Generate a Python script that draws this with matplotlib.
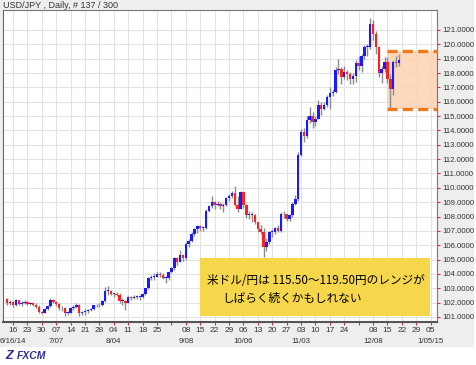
import numpy as np
import pandas as pd
import matplotlib
matplotlib.use("Agg")
import matplotlib.pyplot as plt
from matplotlib.patches import Rectangle
from matplotlib.transforms import blended_transform_factory

plt.rcParams['font.family'] = ['Liberation Sans', 'DejaVu Sans']

# USD/JPY daily, 2014-06-12 .. 2014-12-19 (137 bars)
first_open = 102.25
close = [
    101.95, 102.05,
    101.80, 102.15, 101.90, 102.00, 102.05,
    101.90, 101.95, 101.85, 101.70, 101.35,
    101.30, 101.55, 101.75, 102.20, 102.05,
    101.90, 101.60, 101.65, 101.30, 101.30,
    101.60, 101.70, 101.85, 101.30, 101.35,
    101.40, 101.50, 101.55, 101.80, 101.80,
    101.85, 102.10, 102.80, 102.80, 102.60,
    102.60, 102.55, 102.10, 102.10, 102.00,
    102.40, 102.30, 102.40, 102.40, 102.40,
    102.60, 103.00, 103.70, 103.80, 103.80,
    104.00, 103.90, 103.70, 103.70, 104.10,
    104.40, 105.10, 104.80, 105.30, 105.10,
    106.10, 106.30, 106.80, 107.10, 107.35,
    107.20, 107.20, 108.40, 108.70, 109.00,
    108.80, 108.85, 108.75, 108.80, 109.30,
    109.40, 109.65, 108.80, 108.50, 109.70,
    108.80, 108.10, 108.10, 108.10, 107.60,
    107.10, 106.95, 105.90, 106.20, 106.90,
    106.90, 107.20, 107.00, 108.20, 108.15,
    107.80, 108.10, 108.90, 109.20, 112.30,
    113.90, 113.60, 114.70, 115.00, 114.60,
    114.80, 115.80, 115.50, 115.80, 116.30,
    116.60, 116.70, 118.20, 118.30, 117.70,
    118.10, 117.90, 117.60, 117.80, 118.70,
    118.50, 119.20, 119.80, 119.80, 121.40,
    120.70, 119.80, 118.00, 118.30, 118.80,
    117.60, 116.90, 118.80, 118.70, 118.90,
]
high = [
    102.35, 102.15,
    102.10, 102.25, 102.20, 102.10, 102.15,
    102.10, 102.05, 102.05, 101.95, 101.80,
    101.45, 101.60, 101.80, 102.30, 102.25,
    102.10, 101.95, 101.75, 101.70, 101.40,
    101.70, 101.85, 101.95, 101.90, 101.45,
    101.55, 101.55, 101.60, 101.85, 101.90,
    101.95, 102.15, 103.10, 103.15, 102.90,
    102.70, 102.75, 102.65, 102.30, 102.15,
    102.45, 102.45, 102.55, 102.55, 102.55,
    102.70, 103.05, 103.80, 103.95, 104.05,
    104.10, 104.15, 104.05, 103.85, 104.15,
    104.45, 105.20, 105.20, 105.70, 105.40,
    106.20, 106.40, 106.90, 107.20, 107.40,
    107.40, 107.35, 108.50, 108.80, 109.45,
    109.05, 109.10, 109.00, 108.95, 109.35,
    109.60, 109.75, 110.10, 109.40, 109.80,
    109.60, 108.90, 108.40, 108.30, 108.20,
    107.60, 107.40, 107.20, 106.50, 107.00,
    107.10, 107.30, 107.40, 108.30, 108.40,
    108.20, 108.20, 109.00, 109.50, 112.50,
    114.10, 114.20, 115.00, 115.60, 115.30,
    115.00, 116.10, 116.00, 116.00, 116.50,
    117.00, 116.90, 118.40, 118.95, 118.40,
    118.50, 118.20, 118.10, 118.00, 118.90,
    119.20, 119.30, 119.95, 120.00, 121.85,
    121.70, 120.90, 119.90, 118.50, 119.10,
    119.10, 117.90, 118.90, 119.15, 119.30,
]
low = [
    101.85, 101.85,
    101.70, 101.75, 101.80, 101.75, 101.90,
    101.80, 101.80, 101.75, 101.60, 101.25,
    101.20, 101.25, 101.50, 101.70, 101.95,
    101.75, 101.50, 101.40, 101.10, 101.15,
    101.30, 101.50, 101.60, 101.10, 101.15,
    101.15, 101.30, 101.40, 101.50, 101.70,
    101.70, 101.75, 102.05, 102.50, 102.50,
    102.40, 102.45, 102.00, 101.85, 101.50,
    102.00, 102.15, 102.25, 102.25, 102.20,
    102.35, 102.55, 102.95, 103.55, 103.60,
    103.80, 103.80, 103.65, 103.40, 103.60,
    104.05, 104.25, 104.60, 104.80, 104.90,
    105.00, 105.90, 106.20, 106.65, 106.85,
    107.00, 107.00, 107.10, 108.30, 108.60,
    108.55, 108.70, 108.50, 108.30, 108.70,
    109.05, 109.30, 108.75, 108.30, 108.50,
    108.60, 107.90, 107.80, 107.60, 107.50,
    106.90, 106.80, 105.20, 105.60, 106.10,
    106.60, 106.80, 106.90, 106.90, 107.90,
    107.70, 107.70, 108.00, 108.80, 109.10,
    112.20, 113.20, 113.50, 114.50, 114.20,
    114.30, 114.80, 115.10, 115.40, 115.60,
    115.50, 116.40, 116.60, 117.90, 117.20,
    117.60, 117.50, 117.20, 117.20, 117.40,
    118.20, 118.10, 119.00, 119.20, 119.70,
    120.30, 119.30, 117.70, 117.30, 118.10,
    117.30, 115.55, 116.50, 118.40, 118.50,
]

y_ticks = list(range(101, 122))
skip_day_labels = ["2014-09-01", "2014-12-01"]
month_dates = ["2014-06-16", "2014-07-07", "2014-08-04", "2014-09-08",
               "2014-10-06", "2014-11-03", "2014-12-08", "2015-01-05"]
month_texts = ["6/16/14", "7/07", "8/04", "9/08", "10/06", "11/03", "12/08", "1/05/15"]
range_low, range_high = 115.5, 119.5
range_start = "2014-12-15"

title = "USD/JPY , Daily, # 137 / 300"
note_lines = ["米ドル/円は 115.50～119.50円のレンジが", "しばらく続くかもしれない"]

all_days = pd.bdate_range("2014-06-12", "2015-01-09")
pos = {d: i for i, d in enumerate(all_days)}

fig = plt.figure(figsize=(4.77, 3.65), dpi=100)
fig.patch.set_facecolor("white")
fig.add_artist(Rectangle((0, 18 / 365), 474 / 477, 1 - 18 / 365,
                         transform=fig.transFigure, facecolor="#eeeeee",
                         edgecolor="none", zorder=-10))

ax = fig.add_axes([3 / 477, 43 / 365, 434 / 477, 312 / 365])
ax.set_facecolor("white")

opens = [first_open] + close[:-1]
for i in range(len(close)):
    o, c = opens[i], close[i]
    col = "#1a1aff" if c >= o else "#ff2020"
    ax.vlines(i, low[i], high[i], color="#8c8c8c", lw=1.0, zorder=3)
    h = max(abs(c - o), 0.06)
    ax.bar(i, h, bottom=min(o, c), width=0.85, color=col, lw=0, zorder=4)

ax.set_xlim(-1.47, 149.2)
ax.set_ylim(100.65, 122.39)

mondays = [d for d in all_days if d.weekday() == 0 and d >= pd.Timestamp("2014-06-16")]
ax.set_xticks([pos[d] for d in mondays])
ax.set_xticklabels(["" if d.strftime("%Y-%m-%d") in skip_day_labels else d.strftime("%d")
                    for d in mondays])
ax.set_yticks(y_ticks)
ax.set_yticklabels(["%.4f" % v for v in y_ticks])
ax.yaxis.tick_right()
ax.tick_params(axis="both", colors="#e03030", labelcolor="#333333",
               labelsize=5.6, length=2.5, width=0.8, pad=1.5)
ax.tick_params(axis="x", labelsize=6, pad=1)
ax.grid(True, color="#e2e2e2", lw=0.8, zorder=0)
ax.set_axisbelow(True)
for s in ["top", "right"]:
    ax.spines[s].set_color("#777777")
ax.spines["left"].set_color("#666666")
ax.spines["bottom"].set_color("#555555")
ax.spines["bottom"].set_linewidth(1.5)

trans = blended_transform_factory(ax.transData, ax.transAxes)
for d, t in zip(month_dates, month_texts):
    ax.text(pos[pd.Timestamp(d)], -0.052, t, transform=trans, ha="center", va="top",
            fontsize=5.7, color="#333333")

x0 = pos[pd.Timestamp(range_start)] - 0.3
x1 = ax.get_xlim()[1]
ax.add_patch(Rectangle((x0, range_low), x1 - x0, range_high - range_low,
                       facecolor="#fcd2b2", edgecolor="none", alpha=0.85, zorder=2))
ax.hlines([range_low, range_high], x0, x1, color="#f07a1a", lw=2.4,
          linestyles=(0, (3, 1.6)), zorder=5, clip_on=False)

fig.text(3 / 477, 1 - 5 / 365, title, fontsize=6.5, color="#333333", va="center")

fig.add_artist(Rectangle((200 / 477, 1 - 316 / 365), 230 / 477, 58 / 365,
                         transform=fig.transFigure, facecolor="#f6d64a",
                         edgecolor="none", zorder=5))
cjk = ["Noto Sans CJK JP", "DejaVu Sans"]
fig.text(207 / 477, 1 - 280 / 365, note_lines[0], fontsize=8.4, color="black",
         family=cjk, va="center", ha="left", zorder=6)
fig.text(222 / 477, 1 - 298 / 365, note_lines[1], fontsize=8.4, color="black",
         family=cjk, va="center", ha="left", zorder=6)

fig.text(5 / 477, 1 - 356 / 365, "Z", fontsize=9, color="#2b3190",
         fontweight="bold", style="italic", va="center")
fig.text(17 / 477, 1 - 356 / 365, "FXCM", fontsize=7.5, color="#2b3190",
         fontweight="bold", style="italic", va="center")

fig.savefig("out.png", dpi=100)
